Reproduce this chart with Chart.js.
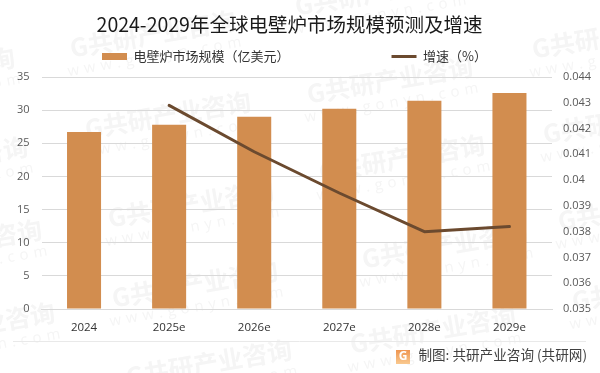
<!DOCTYPE html>
<html><head><meta charset="utf-8">
<style>html,body{margin:0;padding:0;background:#fff}#wrap{width:600px;height:373px;position:relative}</style>
<script src="https://cdn.jsdelivr.net/npm/chart.js@4"></script>
</head><body><div id="wrap"><canvas id="c" width="600" height="373"></canvas></div>
<script>
const categories = ['2024','2025e','2026e','2027e','2028e','2029e'];
const marketSize = [26.7,27.8,29.0,30.2,31.4,32.6];
const growth = [null,0.0429,0.0411,0.0395,0.0380,0.0382];
const titleText = '2024-2029年全球电壁炉市场规模预测及增速';
const barName = '电壁炉市场规模（亿美元）';
const lineName = '增速（%）';
const sourceText = '制图: 共研产业咨询 (共研网)';
const FONT = '"Noto Sans CJK SC","Noto Sans",sans-serif';
const LATIN = '"Open Sans","Noto Sans CJK SC",sans-serif';
const LEGEND_GAP = 102;

const watermarks = [
 [390,80],[168,115],[153,34],[615,35],[626,120],[402,158],[-68,71],[-55,160],[191,204],
 [-41,243],[195,284],[-28,326],[209,363],[445,245],[433,330],[641,207],[655,287],[378,-8]
];
const backdrop = {
  id:'backdrop',
  beforeLayout(chart){
    const lg = chart.legend;
    if(lg && !lg._wrapped){
      const fit = lg.fit.bind(lg);
      lg.fit = function(){ fit(); lg.height = 31.6; };
      lg._wrapped = true;
    }
  },
  afterLayout(chart){
    chart.legend.top = 50 - LEGEND_GAP;
    chart.titleBlock.left -= 5;
    chart.titleBlock.right -= 5;
  },
  beforeDraw(chart){
    const ctx = chart.ctx;
    ctx.save();
    ctx.textAlign='center';
    ctx.textBaseline='middle';
    ctx.fillStyle='#f5f5f5';
    watermarks.forEach(([x,y])=>{
      ctx.save();
      ctx.translate(x,y);
      ctx.rotate(-0.17);
      ctx.font='bold 25px '+FONT;
      ctx.letterSpacing='0px';
      ctx.fillText('G共研产业咨询',0,0);
      ctx.font='15px '+LATIN;
      ctx.letterSpacing='5px';
      ctx.fillText('www.gonyn.com',0,23);
      ctx.restore();
    });
    ctx.restore();
  },
  afterDraw(chart){
    const ctx = chart.ctx;
    ctx.save();
    ctx.strokeStyle='#e9e9e9';
    ctx.lineWidth=1;
    ctx.beginPath();ctx.moveTo(13,341.5);ctx.lineTo(586,341.5);ctx.stroke();
    const g = ctx.createLinearGradient(396,350,396,364);
    g.addColorStop(0,'#ef9550');g.addColorStop(1,'#f9c98f');
    ctx.fillStyle=g;
    ctx.fillRect(396,350,14,14);
    ctx.fillStyle='#fff';
    ctx.font='bold 12px '+LATIN;
    ctx.textAlign='center';ctx.textBaseline='middle';
    ctx.fillText('G',403,357);
    ctx.fillStyle='#404040';
    ctx.font='13.6px '+FONT;
    ctx.textAlign='right';
    ctx.fillText(sourceText,587,355);
    ctx.restore();
  }
};

new Chart(document.getElementById('c'),{
  data:{
    labels:categories,
    datasets:[
      {type:'line',label:lineName,data:growth,yAxisID:'y1',borderColor:'#6b4a2f',backgroundColor:'#6b4a2f',
       borderWidth:3,pointRadius:0,pointStyle:'line',borderCapStyle:'round',borderJoinStyle:'round',tension:0,order:1,spanGaps:false},
      {type:'bar',label:barName,data:marketSize,yAxisID:'y',backgroundColor:'#d28d4f',borderWidth:0,
       pointStyle:'rect',barPercentage:0.4,categoryPercentage:1,order:2}
    ]
  },
  plugins:[backdrop],
  options:{
    responsive:false,animation:false,
    layout:{padding:{left:-11,right:0,top:0,bottom:0}},
    plugins:{
      tooltip:{enabled:false},
      title:{display:true,text:titleText,color:'#1a1a1a',font:{family:FONT,size:19.5,weight:'normal'},padding:{top:13,bottom:9}},
      legend:{
        position:'top',
        reverse:true,
        labels:{
          usePointStyle:true,pointStyleWidth:25,boxHeight:7,padding:LEGEND_GAP,color:'#333',
          font:{family:FONT,size:13}
        }
      }
    },
    scales:{
      x:{
        grid:{display:false,drawTicks:false},
        border:{color:'#d9d9d9',width:1},
        ticks:{color:'#333',font:{family:LATIN,size:11.5},padding:12,maxRotation:0},
        afterFit(s){s.height=64;}
      },
      y:{
        position:'left',min:0,max:35,
        grid:{color:'#d9d9d9',drawTicks:false},
        border:{display:false},
        ticks:{stepSize:5,color:'#595959',font:{family:LATIN,size:11},padding:12},
        afterFit(s){s.width=52.5;}
      },
      y1:{
        position:'right',min:0.035,max:0.044,
        grid:{display:false,drawTicks:false},
        border:{display:false},
        ticks:{stepSize:0.001,autoSkip:false,color:'#595959',font:{family:LATIN,size:11},padding:11,
          callback:v=>String(Number(v.toFixed(3)))},
        afterFit(s){s.width=48;}
      }
    }
  }
});
</script></body></html>
